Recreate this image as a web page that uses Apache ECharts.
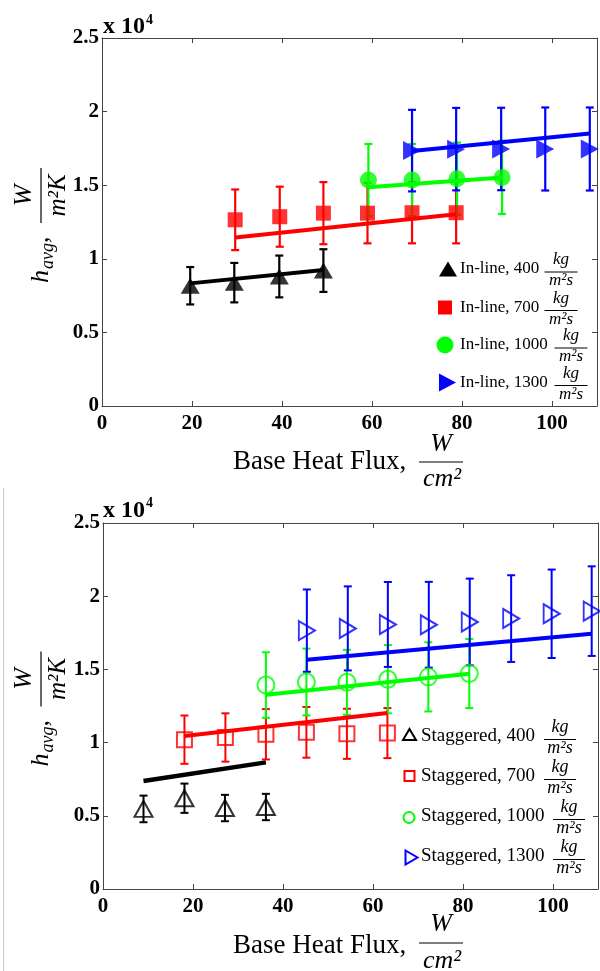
<!DOCTYPE html>
<html>
<head>
<meta charset="utf-8">
<script src="https://cdn.jsdelivr.net/npm/echarts@6/dist/echarts.min.js"></script>
<style>
  html, body { margin: 0; padding: 0; background: #fff; }
  #chart { width: 600px; height: 971px; }
</style>
</head>
<body>
<div id="chart"></div>
<script>
// ---- Tick labels ----
const xTickLabels = ['0', '20', '40', '60', '80', '100'];
const yTickLabels = ['0', '0.5', '1', '1.5', '2', '2.5'];

// ---- In-line arrangement (upper panel): heat flux [W/cm^2], h_avg [W/m^2K], uncertainty ----
const inl400X = [19.6, 29.4, 39.4, 49.2];
const inl400Y = [8170, 8380, 8800, 9200];
const inl400E = [1270, 1340, 1420, 1450];
const inl400FitX = [19.6, 49.2];
const inl400FitY = [8330, 9240];

const inl700X = [29.6, 39.5, 49.2, 59.0, 68.9, 78.7];
const inl700Y = [12650, 12860, 13100, 13100, 13130, 13130];
const inl700E = [2060, 2040, 2110, 2050, 2080, 2080];
const inl700FitX = [29.6, 78.7];
const inl700FitY = [11440, 13020];

const inl1000X = [59.2, 68.9, 78.9, 88.9];
const inl1000Y = [15350, 15350, 15440, 15530];
const inl1000E = [2450, 2450, 2450, 2490];
const inl1000FitX = [59.2, 88.9];
const inl1000FitY = [14860, 15530];

const inl1300X = [68.9, 78.7, 88.7, 98.5, 108.4];
const inl1300Y = [17350, 17450, 17460, 17460, 17460];
const inl1300E = [2770, 2800, 2800, 2820, 2820];
const inl1300FitX = [68.9, 108.4];
const inl1300FitY = [17320, 18520];

// ---- Staggered arrangement (lower panel) ----
const stg400X = [9.0, 18.1, 27.1, 36.2];
const stg400Y = [5470, 6200, 5530, 5600];
const stg400E = [910, 1000, 900, 900];
const stg400FitX = [9.0, 36.2];
const stg400FitY = [7380, 8650];

const stg700X = [18.1, 27.2, 36.2, 45.2, 54.2, 63.2];
const stg700Y = [10200, 10350, 10570, 10700, 10600, 10650];
const stg700E = [1650, 1650, 1720, 1730, 1710, 1710];
const stg700FitX = [18.1, 63.2];
const stg700FitY = [10450, 12020];

const stg1000X = [36.2, 45.2, 54.2, 63.3, 72.3, 81.4];
const stg1000Y = [13930, 14140, 14120, 14330, 14490, 14720];
const stg1000E = [2240, 2280, 2220, 2330, 2360, 2360];
const stg1000FitX = [36.2, 81.4];
const stg1000FitY = [13270, 14710];

const stg1300X = [45.3, 54.4, 63.3, 72.4, 81.5, 90.7, 99.7, 108.6];
const stg1300Y = [17650, 17800, 18070, 18050, 18240, 18470, 18800, 18980];
const stg1300E = [2810, 2870, 2900, 2930, 2960, 2960, 3020, 3060];
const stg1300FitX = [45.3, 108.6];
const stg1300FitY = [15660, 17440];

// ---- Legend entries ----
const inlNames = ['In-line, 400', 'In-line, 700', 'In-line, 1000', 'In-line, 1300'];
const stgNames = ['Staggered, 400', 'Staggered, 700', 'Staggered, 1000', 'Staggered, 1300'];

const SERIF = 'Liberation Serif';
const AX = '#444';
const BLACK = '#000000', RED = '#ff0000', GREEN = '#00ff00', BLUE = '#0000ff';
const RIGHT_TRI = 'path://M0,0 L10,5 L0,10 Z';

const chart = echarts.init(document.getElementById('chart'), null, { renderer: 'canvas' });

function pairs(xs, ys) { return xs.map((x, i) => [x, ys[i]]); }

function errorBars(panel, xs, ys, es, color, width) {
  return {
    type: 'custom',
    xAxisIndex: panel * 2, yAxisIndex: panel * 2,
    silent: true,
    data: xs.map((x, i) => [x, ys[i], es[i]]),
    encode: { x: 0, y: 1 },
    renderItem(params, api) {
      const x = api.value(0), y = api.value(1), e = api.value(2);
      const t = api.coord([x, y + e]);
      const b = api.coord([x, y - e]);
      const cap = 4;
      const style = { stroke: color, lineWidth: width };
      return {
        type: 'group',
        children: [
          { type: 'line', shape: { x1: t[0], y1: t[1], x2: b[0], y2: b[1] }, style },
          { type: 'line', shape: { x1: t[0] - cap, y1: t[1], x2: t[0] + cap, y2: t[1] }, style },
          { type: 'line', shape: { x1: b[0] - cap, y1: b[1], x2: b[0] + cap, y2: b[1] }, style }
        ]
      };
    }
  };
}

function markers(panel, xs, ys, symbol, size, color, open) {
  return {
    type: 'scatter',
    xAxisIndex: panel * 2, yAxisIndex: panel * 2,
    silent: true,
    symbol, symbolSize: size,
    itemStyle: open
      ? { color: 'rgba(0,0,0,0)', borderColor: color, borderWidth: 2 }
      : { color: color, borderWidth: 0 },
    data: pairs(xs, ys)
  };
}

function fitLine(panel, xs, ys, color, width) {
  return {
    type: 'line',
    xAxisIndex: panel * 2, yAxisIndex: panel * 2,
    silent: true,
    symbol: 'none', showSymbol: false,
    lineStyle: { color, width: width || 4 },
    data: pairs(xs, ys)
  };
}

function xAxes(gridIndex) {
  const common = {
    type: 'value', gridIndex, min: 0, max: 110, interval: 20,
    splitLine: { show: false },
    axisLine: { show: true, onZero: false, lineStyle: { color: AX, width: 1 } },
    axisTick: { show: true, inside: true, length: 5, lineStyle: { color: AX } }
  };
  return [
    Object.assign({}, common, {
      position: 'bottom',
      axisLabel: {
        show: true, margin: 7, color: '#000', fontFamily: SERIF, fontWeight: 'bold', fontSize: 21,
        showMaxLabel: false,
        formatter: v => (v % 20 === 0 && v <= 100) ? xTickLabels[Math.round(v / 20)] : ''
      }
    }),
    Object.assign({}, common, { position: 'top', axisLabel: { show: false } })
  ];
}

function yAxes(gridIndex) {
  const common = {
    type: 'value', gridIndex, min: 0, max: 25000, interval: 5000,
    splitLine: { show: false },
    axisLine: { show: true, onZero: false, lineStyle: { color: AX, width: 1 } },
    axisTick: { show: true, inside: true, length: 5, lineStyle: { color: AX } }
  };
  return [
    Object.assign({}, common, {
      position: 'left',
      axisLabel: {
        show: true, margin: 3, color: '#000', fontFamily: SERIF, fontWeight: 'bold', fontSize: 21,
        formatter: v => yTickLabels[Math.round(v / 5000)]
      }
    }),
    Object.assign({}, common, { position: 'right', axisLabel: { show: false } })
  ];
}

// ---- text helpers for graphic annotations ----
function txt(x, y, text, size, opts) {
  opts = opts || {};
  const align = opts.align || 'left';
  const valign = opts.valign || 'middle';
  return {
    type: 'text', x, y, silent: true,
    style: {
      text, fill: '#000',
      fontSize: size, fontFamily: SERIF,
      fontStyle: opts.italic ? 'italic' : 'normal',
      fontWeight: opts.bold ? 'bold' : 'normal',
      textAlign: align, align: align,
      textVerticalAlign: valign, verticalAlign: valign
    }
  };
}
function hline(x1, x2, y, w) {
  return { type: 'line', silent: true, shape: { x1, y1: y, x2, y2: y }, style: { stroke: '#000', lineWidth: w || 1 } };
}

function legendMarker(kind, cx, cy, w, h, color, open) {
  const style = open
    ? { fill: 'none', stroke: color, lineWidth: 2 }
    : { fill: color, stroke: null };
  if (kind === 'tri') {
    return { type: 'polygon', silent: true, shape: { points: [[cx, cy - h / 2], [cx + w / 2, cy + h / 2], [cx - w / 2, cy + h / 2]] }, style };
  }
  if (kind === 'rtri') {
    return { type: 'polygon', silent: true, shape: { points: [[cx - w / 2, cy - h / 2], [cx + w / 2, cy], [cx - w / 2, cy + h / 2]] }, style };
  }
  if (kind === 'rect') {
    return { type: 'rect', silent: true, shape: { x: cx - w / 2, y: cy - h / 2, width: w, height: h }, style };
  }
  return { type: 'circle', silent: true, shape: { cx, cy, r: w / 2 }, style };
}

function legendBlock(cfg) {
  const out = [];
  cfg.rows.forEach((ry, i) => {
    const m = cfg.markers[i];
    out.push(legendMarker(m.kind, m.cx, ry + m.dy, m.w, m.h, m.color, cfg.open));
    out.push(txt(cfg.textX, ry, cfg.names[i], cfg.fontSize));
    const fx = cfg.fracX[i];
    out.push(txt(fx, ry - 9, 'kg', cfg.fracSize, { italic: true, align: 'center' }));
    out.push(hline(fx - cfg.fracHalf, fx + cfg.fracHalf, ry + 3, 1));
    out.push(txt(fx, ry + 12, 'm\u00b2s', cfg.fracSize, { italic: true, align: 'center' }));
  });
  return out;
}

// y-axis title, rotated to read upwards
function yTitle(x0, y0) {
  return {
    type: 'group', x: x0, y: y0, rotation: Math.PI / 2, silent: true,
    children: [
      txt(-58, 0, 'h', 26, { italic: true }),
      txt(-44, 7.5, 'avg', 18, { italic: true }),
      txt(-18, 0, ',', 26),
      txt(29.5, -17, 'W', 26, { italic: true, align: 'center' }),
      hline(2, 57, 0, 1.2),
      txt(29.5, 17, 'm\u00b2K', 25, { italic: true, align: 'center' })
    ]
  };
}

// x-axis title with fraction
function xTitle(yText, yW, yBar, yCm) {
  return [
    txt(233, yText, 'Base Heat Flux,', 27),
    txt(441, yW, 'W', 26, { italic: true, align: 'center' }),
    hline(419, 463, yBar, 1.2),
    txt(442, yCm, 'cm\u00b2', 26, { italic: true, align: 'center' })
  ];
}

function exponent(yBase, yExp) {
  return [
    txt(103, yBase, 'x 10', 24, { bold: true }),
    txt(146, yExp, '4', 14, { bold: true })
  ];
}

const graphics = [].concat(
  exponent(27, 20),
  exponent(511, 503),
  [yTitle(41, 225), yTitle(41, 708.5)],
  xTitle(462, 444, 462, 479),
  xTitle(946, 924, 943, 961),
  legendBlock({
    rows: [269, 307.5, 345, 382.5],
    names: inlNames,
    open: false,
    textX: 460, fontSize: 17,
    fracX: [561, 561, 571, 571], fracHalf: 16.5, fracSize: 17,
    markers: [
      { kind: 'tri', cx: 448, dy: 0, w: 18, h: 15, color: BLACK },
      { kind: 'rect', cx: 445, dy: 0, w: 14, h: 14, color: RED },
      { kind: 'circle', cx: 445, dy: 0, w: 17, h: 17, color: GREEN },
      { kind: 'rtri', cx: 447.5, dy: 0, w: 17, h: 18, color: BLUE }
    ]
  }),
  legendBlock({
    rows: [736.5, 776.5, 816.5, 856.5],
    names: stgNames,
    open: true,
    textX: 421, fontSize: 19,
    fracX: [560, 560, 569, 569], fracHalf: 16, fracSize: 18,
    markers: [
      { kind: 'tri', cx: 409.5, dy: -2, w: 13, h: 11, color: BLACK },
      { kind: 'rect', cx: 409.5, dy: -0.5, w: 10, h: 10, color: RED },
      { kind: 'circle', cx: 409, dy: 1, w: 11, h: 11, color: GREEN },
      { kind: 'rtri', cx: 411.5, dy: 1, w: 12, h: 14, color: BLUE }
    ]
  }),
  [{ type: 'line', silent: true, shape: { x1: 3.5, y1: 488, x2: 3.5, y2: 971 }, style: { stroke: '#c8c8c8', lineWidth: 1 } }]
);

const option = {
  animation: false,
  backgroundColor: '#ffffff',
  grid: [
    { left: 102, top: 38, width: 495, height: 368, containLabel: false },
    { left: 103, top: 523, width: 495, height: 366, containLabel: false }
  ],
  xAxis: [].concat(xAxes(0), xAxes(1)),
  yAxis: [].concat(yAxes(0), yAxes(1)),
  graphic: graphics,
  series: [
    // upper panel: in-line
    errorBars(0, inl400X, inl400Y, inl400E, BLACK, 2.2),
    markers(0, inl400X, inl400Y, 'triangle', [19, 16], BLACK, false),
    errorBars(0, inl700X, inl700Y, inl700E, RED, 2.2),
    markers(0, inl700X, inl700Y, 'rect', 15, RED, false),
    errorBars(0, inl1000X, inl1000Y, inl1000E, GREEN, 2.2),
    markers(0, inl1000X, inl1000Y, 'circle', 17, GREEN, false),
    errorBars(0, inl1300X, inl1300Y, inl1300E, BLUE, 2.2),
    markers(0, inl1300X, inl1300Y, RIGHT_TRI, [18, 19], BLUE, false),
    fitLine(0, inl400FitX, inl400FitY, BLACK),
    fitLine(0, inl700FitX, inl700FitY, RED),
    fitLine(0, inl1000FitX, inl1000FitY, GREEN),
    fitLine(0, inl1300FitX, inl1300FitY, BLUE),
    // lower panel: staggered
    errorBars(1, stg400X, stg400Y, stg400E, BLACK, 2),
    markers(1, stg400X, stg400Y, 'triangle', [18, 16], BLACK, true),
    errorBars(1, stg700X, stg700Y, stg700E, RED, 2),
    markers(1, stg700X, stg700Y, 'rect', 15, RED, true),
    errorBars(1, stg1000X, stg1000Y, stg1000E, GREEN, 2),
    markers(1, stg1000X, stg1000Y, 'circle', 17, GREEN, true),
    errorBars(1, stg1300X, stg1300Y, stg1300E, BLUE, 2),
    markers(1, stg1300X, stg1300Y, RIGHT_TRI, [16, 19], BLUE, true),
    fitLine(1, stg400FitX, stg400FitY, BLACK, 4.5),
    fitLine(1, stg700FitX, stg700FitY, RED),
    fitLine(1, stg1000FitX, stg1000FitY, GREEN),
    fitLine(1, stg1300FitX, stg1300FitY, BLUE)
  ]
};

chart.setOption(option);
</script>
</body>
</html>
